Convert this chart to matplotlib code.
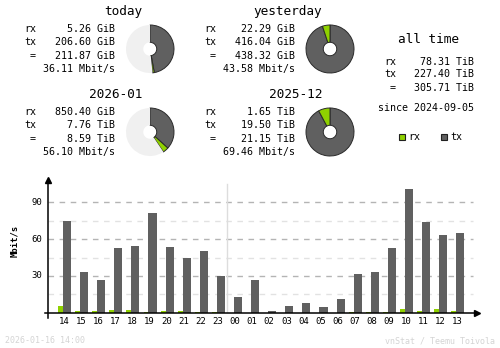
import numpy as np
import matplotlib
matplotlib.use('Agg')
from matplotlib import pyplot as plt
from matplotlib.lines import Line2D
from matplotlib.patches import Rectangle

plt.rcParams.update({'font.family': 'DejaVu Sans Mono'})

W, H = 500, 348
RX_COLOR = '#8fd100'
TX_COLOR = '#606060'
REST_COLOR = '#f0f0f0'
FOOT_COLOR = '#d4d4d4'

# hourly averages (Mbit/s), starting from 14:00 yesterday
hours = ['14', '15', '16', '17', '18', '19', '20', '21', '22', '23',
         '00', '01', '02', '03', '04', '05', '06', '07', '08', '09',
         '10', '11', '12', '13']
rx_rate = [5.5, 1.5, 1.5, 2.3, 2.3, 0.8, 1.5, 1.5, 0.8, 0.8,
           0.0, 0.0, 0.0, 0.0, 0.0, 0.0, 0.0, 0.8, 0.8, 0.8,
           3.3, 1.5, 3.3, 1.5]
tx_rate = [75.0, 33.4, 26.7, 53.0, 54.6, 81.6, 53.8, 44.9, 50.3, 30.2,
           12.8, 26.7, 1.6, 5.7, 8.2, 4.9, 11.4, 31.8, 33.4, 53.0,
           101.1, 74.2, 63.6, 65.2]

# summary blocks: title, rx, tx, total, average rate
today_txt = ['today', '5.26 GiB', '206.60 GiB', '211.87 GiB', '36.11 Mbit/s']
yest_txt = ['yesterday', '22.29 GiB', '416.04 GiB', '438.32 GiB', '43.58 Mbit/s']
month_txt = ['2026-01', '850.40 GiB', '7.76 TiB', '8.59 TiB', '56.10 Mbit/s']
prev_txt = ['2025-12', '1.65 TiB', '19.50 TiB', '21.15 TiB', '69.46 Mbit/s']

# pie values (rx, tx, reference total for the fill ratio)
today_pie = [5.26, 206.60, 438.32]
yest_pie = [22.29, 416.04, 438.32]
month_pie = [850.40 / 1024, 7.76, 21.15]
prev_pie = [1.65, 19.50, 21.15]

alltime_txt = ['78.31 TiB', '227.40 TiB', '305.71 TiB']
since_txt = 'since 2024-09-05'
footer_left = '2026-01-16 14:00'
footer_right = 'vnStat / Teemu Toivola'


def fx(x):
    return x / W


def fy(y):
    return 1 - y / H


fig = plt.figure(figsize=(W / 100, H / 100), dpi=100)


def put(x, y, s, ha='left', size=7.2, color='black', **kw):
    fig.text(fx(x), fy(y), s, ha=ha, va='center', fontsize=size, color=color, **kw)


def block(x0, y0, txt):
    # x0: right edge of label column, y0: y of rx row
    put(x0 + 106, y0 - 17, txt[0], ha='right', size=9.2)
    for i, lab in enumerate(['rx', 'tx', '=']):
        put(x0, y0 + i * 13.3, lab, ha='right')
        put(x0 + 79, y0 + i * 13.3, txt[i + 1], ha='right')
    put(x0 + 79, y0 + 40, txt[4], ha='right')


def donut(cx, cy, vals):
    rx, tx, ref = vals
    rest = max(ref - rx - tx, 0)
    size = 52
    ax = fig.add_axes([fx(cx - size / 2), fy(cy + size / 2), size / W, size / H])
    wedges, _ = ax.pie([tx, rx, rest], colors=[TX_COLOR, RX_COLOR, REST_COLOR],
                       startangle=90, counterclock=False, radius=1,
                       wedgeprops=dict(width=0.72, linewidth=0.7, edgecolor='#2a2a2a'))
    wedges[2].set_edgecolor(REST_COLOR)
    wedges[2].set_linewidth(0)
    lim = size / 48
    ax.set_xlim(-lim, lim)
    ax.set_ylim(-lim, lim)
    ax.set_aspect('auto')
    ax.axis('off')


block(36, 29, today_txt)
block(216, 29, yest_txt)
block(36, 112, month_txt)
block(216, 112, prev_txt)

donut(150, 49, today_pie)
donut(330, 49, yest_pie)
donut(150, 132, month_pie)
donut(330, 132, prev_pie)

# all time summary
put(428, 39.5, 'all time', ha='center', size=9.2)
for i, lab in enumerate(['rx', 'tx', '=']):
    yy = [62.3, 74, 88.3][i]
    put(396, yy, lab, ha='right')
    put(474, yy, alltime_txt[i], ha='right')
put(426, 108.3, since_txt, ha='center')

# legend
for bx, col, lab in [(398.5, RX_COLOR, 'rx'), (440.5, TX_COLOR, 'tx')]:
    fig.patches.append(Rectangle((fx(bx), fy(140)), 6 / W, 6 / H, transform=fig.transFigure,
                                 facecolor=col, edgecolor='#202020', linewidth=0.8))
    put(bx + 10, 136.7, lab)

########################### hourly bar chart ##############################
slot = 17.1
x_left, x_right = 48, 477
y_bottom, y_top = 312.7, 180
ax = fig.add_axes([fx(x_left), fy(y_bottom), (x_right - x_left) / W, (y_bottom - y_top) / H])
ax.set_xlim(-(64 - x_left) / slot, (x_right - 64) / slot)
ax.set_ylim(0, 90 * (y_bottom - y_top) / (y_bottom - 202.3))

idx = np.arange(len(hours))
ax.bar(idx - 0.35, rx_rate, width=0.29, align='edge', color=RX_COLOR, zorder=3)
ax.bar(idx - 0.06, tx_rate, width=0.47, align='edge', color=TX_COLOR, zorder=3)

grid_right = (473 - 64) / slot
for v in [15, 30, 45, 60, 75, 90]:
    major = v % 30 == 0
    ax.plot([ax.get_xlim()[0], grid_right], [v, v], color='#b4b4b4' if major else '#e2e2e2',
            linestyle=(0, (4, 4)), linewidth=1, zorder=1)

# day boundary
ax.axvline((226.7 - 64) / slot, ymin=0, ymax=(y_bottom - 184) / (y_bottom - y_top),
           color='#dddddd', linewidth=1, zorder=1)

for s in ax.spines.values():
    s.set_visible(False)
ax.set_xticks([])
ax.set_yticks([])

# axis lines with arrow heads
ax.add_line(Line2D([-3 / (x_right - x_left), 1], [0, 0], transform=ax.transAxes,
                   color='black', linewidth=1.1, clip_on=False, zorder=4))
ax.add_line(Line2D([0, 0], [-5 / (y_bottom - y_top), 1], transform=ax.transAxes,
                   color='black', linewidth=1.1, clip_on=False, zorder=4))
ax.plot([1], [0], marker='>', markersize=4, color='black', transform=ax.transAxes, clip_on=False, zorder=5)
ax.plot([0], [1], marker='^', markersize=4, color='black', transform=ax.transAxes, clip_on=False, zorder=5)

for i, h in enumerate(hours):
    fig.text(fx(64 + i * slot), fy(321.5), h, ha='center', va='center', fontsize=6.5)
for v in [30, 60, 90]:
    yy = y_bottom - v * (y_bottom - 202.3) / 90
    put(42, yy, str(v), ha='right', size=6.5)

fig.text(fx(15), fy(241), 'Mbit/s', rotation=90, ha='center', va='center', fontsize=6.4, fontweight='bold')

put(5, 340.5, footer_left, size=6.0, color=FOOT_COLOR)
put(495, 340.5, footer_right, ha='right', size=6.0, color=FOOT_COLOR)

plt.savefig('out.png', dpi=100)
